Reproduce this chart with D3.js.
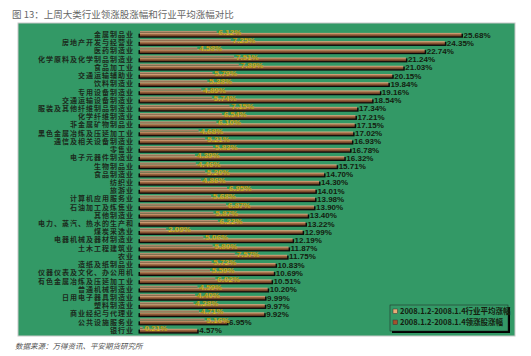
<!DOCTYPE html>
<html>
<head>
<meta charset="utf-8">
<script src="https://cdn.jsdelivr.net/npm/d3@7"></script>
<style>
  body { margin: 0; background: #fff; }
  svg text { font-family: "Noto Sans CJK SC", "DejaVu Sans", sans-serif; }
  .cat { font-size: 7px; letter-spacing: 1px; fill: #1c2a1c; font-weight: bold; }
  .lead { font-size: 8px; fill: #14200f; font-family: "Liberation Sans", Arial, sans-serif; font-weight: bold; }
  .avg { font-size: 8px; fill: #ecc52a; stroke: #7a6a10; stroke-width: 0.25px; font-family: "Liberation Sans", Arial, sans-serif; font-weight: bold; }
</style>
</head>
<body>
<svg id="chart" width="531" height="356"></svg>
<script>
const categories = ['金属制品业', '房地产开发与经营业', '医药制造业', '化学原料及化学制品制造业', '食品加工业',
  '交通运输辅助业', '饮料制造业', '专用设备制造业', '交通运输设备制造业', '服装及其他纤维制品制造业',
  '化学纤维制造业', '非金属矿物制品业', '黑色金属冶炼及压延加工业', '通信及相关设备制造业', '零售业',
  '电子元器件制造业', '生物制品业', '食品制造业', '纺织业', '旅游业', '计算机应用服务业', '石油加工及炼焦业',
  '其他制造业', '电力、蒸汽、热水的生产和', '煤炭采选业', '电器机械及器材制造业', '土木工程建筑业', '农业',
  '造纸及纸制品业', '仪器仪表及文化、办公用机', '有色金属冶炼及压延加工业', '普通机械制造业',
  '日用电子器具制造业', '塑料制造业', '商业经纪与代理业', '公共设施服务业', '银行业'];

// 领涨股涨幅 (%)
const leaderGain = [25.68, 24.35, 22.74, 21.24, 21.03, 20.15, 19.84, 19.16, 18.54, 17.34,
  17.21, 17.15, 17.02, 16.93, 16.78, 16.32, 15.71, 14.70, 14.30, 14.01, 13.98, 13.90,
  13.40, 13.22, 12.99, 12.19, 11.87, 11.75, 10.83, 10.69, 10.51, 10.20, 9.99, 9.97, 9.92, 6.95, 4.57];

// 行业平均涨幅 (%)
const avgGain = [6.12, 7.25, 4.58, 7.51, 7.89, 5.79, 5.38, 4.89, 5.74, 7.15,
  6.54, 6.10, 4.68, 5.21, 5.83, 4.39, 4.46, 5.20, 4.86, 6.95, 5.68, 6.87,
  5.87, 6.22, 2.09, 5.06, 5.80, 7.57, 5.72, 5.59, 6.02, 4.59, 4.40, 4.28, 4.71, 5.16, 0.21];

const legendLabels = ['2008.1.2-2008.1.4行业平均涨幅', '2008.1.2-2008.1.4领涨股涨幅'];
const title = '图 13：上周大类行业领涨股涨幅和行业平均涨幅对比';
const source = '数据来源：万得资讯、平安期货研究所';

const svg = d3.select('#chart');
const panel = {x: 18, y: 23, w: 497, h: 313};

const x = d3.scaleLinear().domain([0, 25.68]).range([140, 461.5]);
const y = d3.scaleBand().domain(categories).range([30.4, 334.5]).padding(0);

const defs = svg.append('defs');
const wood = defs.append('linearGradient').attr('id', 'wood')
  .attr('x1', 0).attr('x2', 0).attr('y1', 0).attr('y2', 1);
wood.append('stop').attr('offset', '0%').attr('stop-color', '#e2b48a');
wood.append('stop').attr('offset', '45%').attr('stop-color', '#9c6742');
wood.append('stop').attr('offset', '100%').attr('stop-color', '#5e3219');
const thin = defs.append('linearGradient').attr('id', 'thin')
  .attr('x1', 0).attr('x2', 0).attr('y1', 0).attr('y2', 1);
thin.append('stop').attr('offset', '0%').attr('stop-color', '#c9a585');
thin.append('stop').attr('offset', '100%').attr('stop-color', '#7d5a3e');

svg.append('text').attr('x', 12).attr('y', 18)
  .style('font-size', '9.5px').style('fill', '#666').text(title);

svg.append('rect')
  .attr('x', panel.x).attr('y', panel.y).attr('width', panel.w).attr('height', panel.h)
  .attr('fill', '#339966').attr('stroke', '#c8c8c8').attr('stroke-width', 1);

svg.append('text').attr('x', 15).attr('y', 349)
  .style('font-size', '7.5px').style('font-style', 'italic').style('fill', '#555').text(source);

const rows = svg.append('g').selectAll('g').data(categories).join('g')
  .attr('transform', d => `translate(0, ${y(d) + y.bandwidth() / 2})`);

rows.append('text').attr('class', 'cat')
  .attr('x', 134).attr('y', 2.5).attr('text-anchor', 'end').text(d => d);

// 领涨股 bar with black shadow
rows.append('rect')
  .attr('x', x(0) - 1.5).attr('y', -0.8)
  .attr('width', (d, i) => x(leaderGain[i]) - x(0) + 3).attr('height', 4)
  .attr('fill', '#0b0b0b');
rows.append('rect')
  .attr('x', x(0)).attr('y', -1.6)
  .attr('width', (d, i) => x(leaderGain[i]) - x(0)).attr('height', 3.6)
  .attr('fill', 'url(#wood)');

// 行业平均 bar on top
rows.append('rect')
  .attr('x', x(0)).attr('y', -3.6)
  .attr('width', (d, i) => x(avgGain[i]) - x(0)).attr('height', 2)
  .attr('fill', 'url(#thin)');

rows.append('text').attr('class', 'lead')
  .attr('x', (d, i) => x(leaderGain[i]) + 2).attr('y', 3)
  .text((d, i) => leaderGain[i].toFixed(2) + '%');

rows.append('text').attr('class', 'avg')
  .attr('x', (d, i) => x(avgGain[i]) + 2).attr('y', 0.5)
  .text((d, i) => avgGain[i].toFixed(2) + '%');

// legend
const lg = svg.append('g').attr('transform', 'translate(390, 305)');
lg.append('rect').attr('x', 2).attr('y', 2).attr('width', 118).attr('height', 26).attr('fill', '#000');
lg.append('rect').attr('width', 118).attr('height', 26).attr('fill', '#339966').attr('stroke', '#222').attr('stroke-width', 0.5);
const swatch = ['#e8ad78', '#a4522c'];
legendLabels.forEach((t, i) => {
  lg.append('rect').attr('x', 3).attr('y', 4 + i * 11).attr('width', 4.5).attr('height', 4.5)
    .attr('fill', swatch[i]).attr('stroke', '#333').attr('stroke-width', 0.5);
  lg.append('text').attr('x', 10).attr('y', 9 + i * 11)
    .style('font-size', '7.5px').style('font-weight', 'bold').style('fill', '#14200f')
    .text(t);
});
</script>
</body>
</html>
